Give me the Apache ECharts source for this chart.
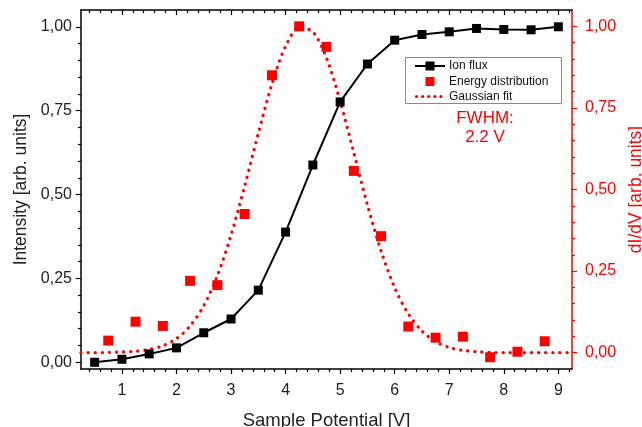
<!DOCTYPE html>
<html><head><meta charset="utf-8">
<script src="https://cdn.jsdelivr.net/npm/echarts@6/dist/echarts.min.js"></script>
<style>html,body{margin:0;padding:0;background:#fff}#c{width:642px;height:427px}</style>
</head><body><div id="c"></div>
<script>
// Ion flux (left axis)
const fluxX = [0.5, 1, 1.5, 2, 2.5, 3, 3.5, 4, 4.5, 5, 5.5, 6, 6.5, 7, 7.5, 8, 8.5, 9];
const fluxY = [0.000, 0.009, 0.025, 0.043, 0.088, 0.129, 0.215, 0.388, 0.588, 0.776, 0.889, 0.960, 0.977, 0.985, 0.995, 0.992, 0.991, 1.000];
// Energy distribution (right axis)
const edX = [0.75, 1.25, 1.75, 2.25, 2.75, 3.25, 3.75, 4.25, 4.75, 5.25, 5.75, 6.25, 6.75, 7.25, 7.75, 8.25, 8.75];
const edY = [0.037, 0.095, 0.082, 0.220, 0.207, 0.425, 0.850, 1.000, 0.937, 0.557, 0.357, 0.080, 0.046, 0.049, -0.014, 0.003, 0.035];
// Gaussian fit (right axis)
const gX = [0.25, 0.5, 0.75, 1, 1.25, 1.5, 1.75, 2, 2.25, 2.5, 2.75, 3, 3.25, 3.5, 3.75, 4, 4.25, 4.5, 4.75, 5, 5.25, 5.5, 5.75, 6, 6.25, 6.5, 6.75, 7, 7.25, 7.5, 7.75, 8, 8.25, 8.5, 8.75, 9, 9.25];
const gY = [0.000, 0.000, 0.001, 0.002, 0.004, 0.010, 0.021, 0.043, 0.082, 0.144, 0.236, 0.360, 0.510, 0.672, 0.823, 0.939, 0.996, 0.983, 0.903, 0.771, 0.613, 0.453, 0.312, 0.199, 0.119, 0.066, 0.034, 0.016, 0.007, 0.003, 0.001, 0.000, 0.000, 0.000, 0.000, 0.000, 0.000];
// Tick labels
const xTicks = [1, 2, 3, 4, 5, 6, 7, 8, 9];
const yTicks = [0, 0.25, 0.5, 0.75, 1.0];
const legendNames = ['Ion flux', 'Energy distribution', 'Gaussian fit'];

const FONT = 'Liberation Sans, Arial, sans-serif';
const RED = '#ff0000';
const fmt = v => v.toFixed(2).replace('.', ',');

const xMinor = [];
for (let i = 2; i <= 46; i++) { const v = i / 5; if (Math.abs(v - Math.round(v)) > 1e-6) xMinor.push(+v.toFixed(2)); }
const yMinor = [];
for (let i = 1; i <= 20; i++) { const v = i / 20; if (i % 5 !== 0) yMinor.push(+v.toFixed(2)); }

const X0 = 0.25, X1 = 9.25;
function xAx(pos, vals, len, inside, labels, line) {
  return {
    type: 'value', min: X0, max: X1, position: pos, gridIndex: 0,
    axisLine: { show: line, onZero: false, lineStyle: { color: '#000', width: 1.5 } },
    axisTick: { show: true, customValues: vals, length: len, inside: inside, lineStyle: { color: '#000', width: 1.2 } },
    axisLabel: labels ? { show: true, customValues: vals, color: '#222', fontSize: 16, fontFamily: FONT, margin: 14 } : { show: false },
    splitLine: { show: false }
  };
}
function yAx(pos, mn, mx, vals, len, color, labels, line, extra) {
  return Object.assign({
    type: 'value', min: mn, max: mx, position: pos, gridIndex: 0,
    axisLine: { show: line, onZero: false, lineStyle: { color: color, width: 1.5 } },
    axisTick: { show: true, customValues: vals, length: len, inside: false, lineStyle: { color: color, width: 1.2 } },
    axisLabel: labels ? { show: true, customValues: vals, formatter: fmt, color: '#222', fontSize: 16, fontFamily: FONT, margin: 9 } : { show: false },
    splitLine: { show: false }
  }, extra || {});
}

// legend drawn as graphic elements
const LX = 405.5, LY = 57.5, LW = 156, LH = 46;
const rowY = [66, 81.5, 96.5];
const legendGraphic = [
  { type: 'rect', shape: { x: LX, y: LY, width: LW, height: LH }, style: { fill: '#fff', stroke: '#888', lineWidth: 1 }, z: 100 },
  { type: 'line', shape: { x1: 415, y1: rowY[0], x2: 445, y2: rowY[0] }, style: { stroke: '#000', lineWidth: 2 }, z: 101 },
  { type: 'rect', shape: { x: 425.5, y: rowY[0] - 4.5, width: 9, height: 9 }, style: { fill: '#000' }, z: 102 },
  { type: 'rect', shape: { x: 425.5, y: rowY[1] - 4.5, width: 9, height: 9 }, style: { fill: RED }, z: 102 },
  { type: 'line', shape: { x1: 416.5, y1: rowY[2], x2: 441, y2: rowY[2] }, style: { stroke: RED, lineWidth: 3.2, lineDash: [0.1, 6], lineCap: 'round' }, z: 101 }
].concat(legendNames.map((n, i) => ({
  type: 'text', z: 102,
  style: { text: n, x: 449, y: rowY[i], textVerticalAlign: 'middle', fill: '#111', font: '12px ' + FONT }
})));

const chart = echarts.init(document.getElementById('c'), null, { renderer: 'canvas' });
chart.setOption({
  animation: false,
  backgroundColor: '#fff',
  grid: { left: 81, right: 70, top: 10, bottom: 58, containLabel: false, outerBoundsMode: 'none' },
  xAxis: [
    Object.assign(xAx('bottom', xTicks, 5, false, true, true), {
      name: 'Sample Potential [V]', nameLocation: 'middle', nameGap: 42,
      nameTextStyle: { fontSize: 18.5, fontFamily: FONT, color: '#222' }
    }),
    xAx('bottom', xMinor, 3, false, false, false),
    xAx('top', xTicks, 5, true, false, true),
    xAx('top', xMinor, 3, true, false, false)
  ],
  yAxis: [
    yAx('left', -0.02, 1.05, yTicks, 5, '#000', true, true, {
      name: 'Intensity [arb. units]', nameLocation: 'middle', nameGap: 51, nameRotate: 90,
      nameTextStyle: { fontSize: 17.5, fontFamily: FONT, color: '#222' }
    }),
    yAx('left', -0.02, 1.05, yMinor, 3, '#000', false, false),
    yAx('right', -0.05, 1.05, yTicks, 5, RED, true, true, {
      name: 'dI/dV [arb. units]', nameLocation: 'middle', nameGap: 52, nameRotate: 90,
      nameTextStyle: { fontSize: 17.5, fontFamily: FONT, color: RED },
      axisLabel: { show: true, customValues: yTicks, formatter: fmt, color: RED, fontSize: 16, fontFamily: FONT, margin: 13 }
    }),
    yAx('right', -0.05, 1.05, yMinor, 3, RED, false, false)
  ],
  graphic: legendGraphic.concat([
    { type: 'text', z: 102, style: { text: 'FWHM:', x: 485, y: 118, textAlign: 'center', textVerticalAlign: 'middle', fill: RED, font: '17px ' + FONT } },
    { type: 'text', z: 102, style: { text: '2.2 V', x: 485, y: 137, textAlign: 'center', textVerticalAlign: 'middle', fill: RED, font: '17px ' + FONT } }
  ]),
  series: [
    {
      name: 'Gaussian fit', type: 'line', xAxisIndex: 0, yAxisIndex: 2, smooth: 0.3,
      data: gX.map((x, i) => [x, gY[i]]), symbol: 'none', z: 2,
      itemStyle: { color: RED },
      lineStyle: { color: RED, width: 3.3, type: [0.1, 7], cap: 'round' }
    },
    {
      name: 'Ion flux', type: 'line', xAxisIndex: 0, yAxisIndex: 0,
      data: fluxX.map((x, i) => [x, fluxY[i]]), symbol: 'rect', symbolSize: 9, z: 3,
      itemStyle: { color: '#000' }, lineStyle: { color: '#000', width: 2 }
    },
    {
      name: 'Energy distribution', type: 'scatter', xAxisIndex: 0, yAxisIndex: 2,
      data: edX.map((x, i) => [x, edY[i]]), symbol: 'rect', symbolSize: 10, z: 4,
      itemStyle: { color: RED, opacity: 1 }
    }
  ]
});
</script></body></html>
